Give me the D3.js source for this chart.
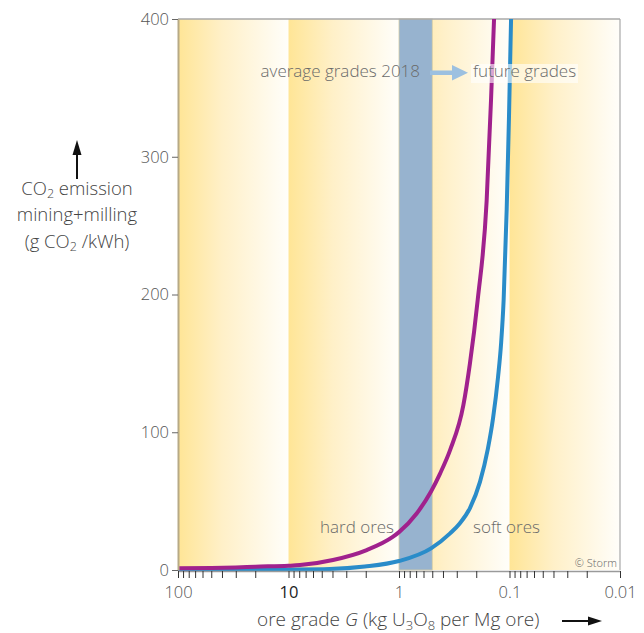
<!DOCTYPE html>
<html>
<head>
<meta charset="utf-8">
<script src="https://cdn.jsdelivr.net/npm/d3@7"></script>
<style>
  html, body { margin: 0; padding: 0; background: #fff; }
  svg { display: block; font-family: "Open Sans", "Noto Sans", sans-serif; font-weight: 300; }
</style>
</head>
<body>
<svg id="chart" width="644" height="633"></svg>
<script>
// Ore grade G in kg U3O8 per Mg ore, and CO2 emission of mining + milling (g CO2/kWh)
const hardGrades = [100, 50, 30, 20, 10, 7.87, 3.96, 1.96, 1.14, 1, 0.692, 0.513, 0.425, 0.345, 0.261, 0.228, 0.194, 0.161, 0.147, 0.138];
const hardValues = [1.2, 1.5, 1.9, 2.4, 3.1, 3.6, 7.3, 14.5, 24, 27.5, 41, 57, 70, 87, 120, 150, 196, 268, 341, 400];

const softGrades = [100, 30, 10, 4.23, 2.04, 1, 0.513, 0.345, 0.281, 0.228, 0.185, 0.157, 0.141, 0.127, 0.119, 0.113, 0.106, 0.101, 0.0968];
const softValues = [0, 0.1, 0.3, 0.7, 2.5, 6.5, 15.7, 26.6, 34, 45, 64, 88, 110, 140, 165, 196, 262, 330, 400];

const decadeStarts = [100, 10, 1, 0.1];           // each decade band runs from G to G/10
const averageBand = [1, 0.5];                     // average ore grades in 2018
const xTickLabels = ["100", "10", "1", "0.1", "0.01"];
const yTicks = [0, 100, 200, 300, 400];

const svg = d3.select("#chart");
const x = d3.scaleLog().domain([100, 0.01]).range([178, 620]);
const y = d3.scaleLinear().domain([0, 400]).range([570, 19]);

const defs = svg.append("defs");
const grad = defs.append("linearGradient").attr("id", "fade")
  .attr("x1", 0).attr("x2", 1).attr("y1", 0).attr("y2", 0);
grad.append("stop").attr("offset", "0%").attr("stop-color", "#ffe596");
grad.append("stop").attr("offset", "40%").attr("stop-color", "#fff0c8");
grad.append("stop").attr("offset", "100%").attr("stop-color", "#fffefa");

// yellow decade bands
svg.append("g").selectAll("rect").data(decadeStarts).join("rect")
  .attr("x", d => x(d)).attr("width", d => x(d / 10) - x(d))
  .attr("y", y(400)).attr("height", y(0) - y(400))
  .attr("fill", "url(#fade)");

// band of average grades
svg.append("rect")
  .attr("x", x(averageBand[0])).attr("width", x(averageBand[1]) - x(averageBand[0]))
  .attr("y", y(400)).attr("height", y(0) - y(400))
  .attr("fill", "#97b3cf").attr("stroke", "#d6cda5").attr("stroke-width", 0.8);

// frame
svg.append("line").attr("x1", x(100)).attr("x2", x(0.01)).attr("y1", y(400)).attr("y2", y(400))
  .attr("stroke", "#a8a8a8").attr("stroke-width", 1.5);
svg.append("line").attr("x1", x(0.01)).attr("x2", x(0.01)).attr("y1", y(400)).attr("y2", y(0))
  .attr("stroke", "#a8a8a8").attr("stroke-width", 1.2);

// curves
const line = d3.line().curve(d3.curveMonotoneX);
const hardPts = hardGrades.map((g, i) => [x(g), y(hardValues[i])]);
const softPts = softGrades.map((g, i) => [x(g), y(softValues[i])]);
svg.append("path").attr("d", line(softPts)).attr("fill", "none")
  .attr("stroke", "#2a8cc9").attr("stroke-width", 4);
svg.append("path").attr("d", line(hardPts)).attr("fill", "none")
  .attr("stroke", "#a0218d").attr("stroke-width", 4);

// x axis: every 1..9 multiple of each decade, labels on the powers of ten
const xTickValues = [100];
[10, 1, 0.1, 0.01].forEach(d => { for (let k = 1; k <= 9; k++) xTickValues.push(+(d * k).toPrecision(3)); });
const labelFor = new Map([100, 10, 1, 0.1, 0.01].map((v, i) => [v, xTickLabels[i]]));

const xAxis = svg.append("g").attr("transform", `translate(0,${y(0) + 1})`)
  .call(d3.axisBottom(x).tickValues(xTickValues).tickSizeInner(7).tickSizeOuter(0).tickPadding(8)
    .tickFormat(d => labelFor.has(d) ? labelFor.get(d) : ""));
xAxis.select(".domain").attr("stroke", "#9a9a9a").attr("stroke-width", 1.5);
xAxis.selectAll(".tick line").attr("stroke", "#333").attr("stroke-width", 1);
xAxis.selectAll(".tick text").attr("font-size", 16.5).attr("fill", "#555")
  .attr("font-family", "'Open Sans', sans-serif");
xAxis.selectAll(".tick text").filter(d => d === 10).attr("fill", "#222").attr("font-weight", 400);

// y axis
const yAxis = svg.append("g").attr("transform", `translate(${x(100)},0)`)
  .call(d3.axisLeft(y).tickValues(yTicks).tickSizeInner(6).tickSizeOuter(0).tickPadding(3));
yAxis.select(".domain").attr("stroke", "#b7aa86").attr("stroke-width", 2);
yAxis.selectAll(".tick line").attr("stroke", "#666");
yAxis.selectAll(".tick text").attr("font-size", 16.5).attr("fill", "#555")
  .attr("font-family", "'Open Sans', sans-serif");

// annotations
svg.append("path")
  .attr("d", "M430,70.5 L452,70.5 L452,65 L468,72.7 L452,80.5 L452,75 L430,75 Z")
  .attr("fill", "#9cc0e0");
svg.append("rect").attr("x", 471).attr("y", 64).attr("width", 107).attr("height", 19)
  .attr("fill", "#fff").attr("opacity", 0.6);

const note = svg.append("g").attr("font-size", 17).attr("fill", "#6a6a6a");
note.append("text").attr("x", 420).attr("y", 77).attr("text-anchor", "end").text("average grades 2018");
note.append("text").attr("x", 473).attr("y", 77).text("future grades");
note.append("text").attr("x", 320).attr("y", 533).text("hard ores");
note.append("text").attr("x", 473).attr("y", 533).text("soft ores");
svg.append("text").attr("x", 617).attr("y", 567).attr("text-anchor", "end")
  .attr("font-size", 11).attr("fill", "#666").text("© Storm");

// y title
const yt = svg.append("g").attr("font-size", 18.5).attr("fill", "#444").attr("text-anchor", "middle");
const l1 = yt.append("text").attr("x", 77).attr("y", 195);
l1.append("tspan").text("CO");
l1.append("tspan").attr("font-size", 12.5).attr("dy", 3).text("2");
l1.append("tspan").attr("dy", -3).text(" emission");
yt.append("text").attr("x", 77).attr("y", 221).text("mining+milling");
const l3 = yt.append("text").attr("x", 77).attr("y", 248);
l3.append("tspan").text("(g CO");
l3.append("tspan").attr("font-size", 12.5).attr("dy", 3).text("2");
l3.append("tspan").attr("dy", -3).text(" /kWh)");

svg.append("line").attr("x1", 77).attr("x2", 77).attr("y1", 179).attr("y2", 152)
  .attr("stroke", "#111").attr("stroke-width", 2);
svg.append("path").attr("d", "M77,140 L72.5,155 L81.5,155 Z").attr("fill", "#111");

// x title
const xt = svg.append("text").attr("x", 257).attr("y", 626).attr("font-size", 19).attr("fill", "#444");
xt.append("tspan").text("ore grade ");
xt.append("tspan").attr("font-style", "italic").text("G");
xt.append("tspan").text(" (kg U");
xt.append("tspan").attr("font-size", 13).attr("dy", 4).text("3");
xt.append("tspan").attr("dy", -4).text("O");
xt.append("tspan").attr("font-size", 13).attr("dy", 4).text("8");
xt.append("tspan").attr("dy", -4).text(" per Mg ore)");

svg.append("line").attr("x1", 562).attr("x2", 590).attr("y1", 621).attr("y2", 621)
  .attr("stroke", "#111").attr("stroke-width", 2);
svg.append("path").attr("d", "M602,621 L588,616.5 L588,625.5 Z").attr("fill", "#111");
</script>
</body>
</html>
